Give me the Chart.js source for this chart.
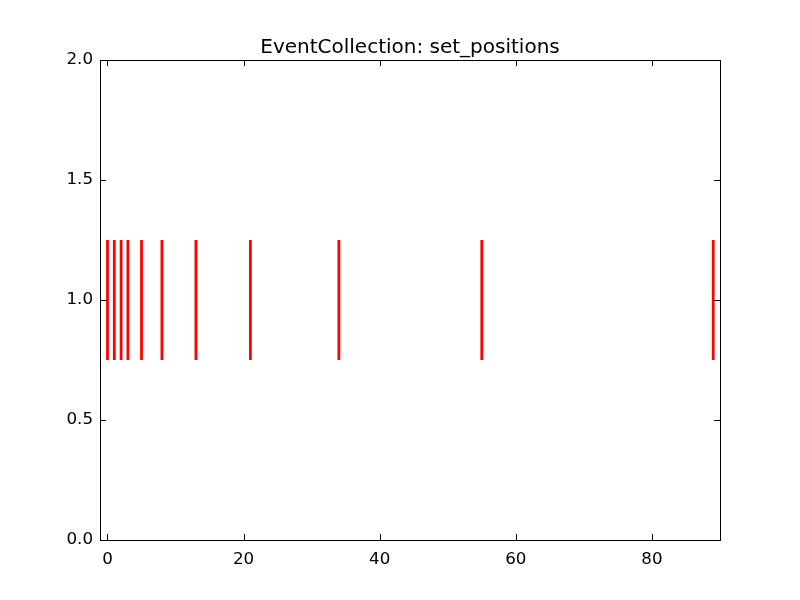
<!DOCTYPE html>
<html>
<head>
<meta charset="utf-8">
<script src="https://cdn.jsdelivr.net/npm/chart.js@4"></script>
<style>
    html, body { margin: 0; padding: 0; background: #fff; }
    #c { display: block; }
</style>
</head>
<body>
<canvas id="c" width="800" height="600"></canvas>
<script>
// event data
const positions = [0, 1, 2, 3, 5, 8, 13, 21, 34, 55, 89];
const lineOffset = 1.0;
const lineLength = 0.5;
const xTicks = [0, 20, 40, 60, 80];
const yTicks = [0.0, 0.5, 1.0, 1.5, 2.0];
const titleText = "EventCollection: set_positions";

const FONT = "'DejaVu Sans', sans-serif";

// one short vertical segment per event
const datasets = positions.map((p) => ({
    data: [
        { x: p, y: lineOffset - lineLength / 2 },
        { x: p, y: lineOffset + lineLength / 2 },
    ],
    showLine: true,
    borderColor: "#ff0000",
    borderWidth: 2.8,
    pointRadius: 0,
    borderCapStyle: "butt",
}));

// frame + inward ticks on all four sides (classic matplotlib look)
const frameTicks = {
    id: "frameTicks",
    afterDatasetsDraw(chart) {
        const { ctx, chartArea: a, scales } = chart;
        const len = 6;
        ctx.save();
        ctx.strokeStyle = "#000";
        ctx.lineWidth = 1;
        ctx.beginPath();
        xTicks.forEach((v) => {
            const px = Math.round(scales.x.getPixelForValue(v)) + 0.5;
            ctx.moveTo(px, a.bottom); ctx.lineTo(px, a.bottom - len);
            ctx.moveTo(px, a.top); ctx.lineTo(px, a.top + len);
        });
        yTicks.forEach((v) => {
            const py = Math.round(scales.y.getPixelForValue(v)) + 0.5;
            ctx.moveTo(a.left, py); ctx.lineTo(a.left + len, py);
            ctx.moveTo(a.right, py); ctx.lineTo(a.right - len, py);
        });
        ctx.stroke();
        ctx.strokeRect(Math.round(a.left) + 0.5, Math.round(a.top) + 0.5,
            Math.round(a.right - a.left), Math.round(a.bottom - a.top));
        ctx.restore();
    },
};

new Chart(document.getElementById("c").getContext("2d"), {
    type: "scatter",
    data: { datasets },
    options: {
        responsive: false,
        animation: false,
        layout: { padding: { left: 0, right: 80, top: 0, bottom: 0 } },
        plugins: {
            legend: { display: false },
            tooltip: { enabled: false },
            title: {
                display: true,
                fullSize: false,
                text: titleText,
                color: "#000",
                font: { family: FONT, size: 20, weight: "normal", lineHeight: 1.2 },
                padding: { top: 36, bottom: 0 },
            },
        },
        scales: {
            x: {
                type: "linear",
                min: -1.1,
                max: 90,
                grid: { display: false, drawTicks: false },
                border: { display: false },
                afterBuildTicks: (s) => { s.ticks = xTicks.map((v) => ({ value: v })); },
                afterFit: (s) => { s.height = 60; },
                ticks: {
                    color: "#000",
                    padding: 10,
                    maxRotation: 0,
                    font: { family: FONT, size: 16.7 },
                },
            },
            y: {
                type: "linear",
                min: 0,
                max: 2,
                grid: { display: false, drawTicks: false },
                border: { display: false },
                afterBuildTicks: (s) => { s.ticks = yTicks.map((v) => ({ value: v })); },
                afterFit: (s) => { s.width = 100; },
                ticks: {
                    color: "#000",
                    padding: 7,
                    font: { family: FONT, size: 16.7 },
                    callback: (v) => v.toFixed(1),
                },
            },
        },
    },
    plugins: [frameTicks],
});
</script>
</body>
</html>
